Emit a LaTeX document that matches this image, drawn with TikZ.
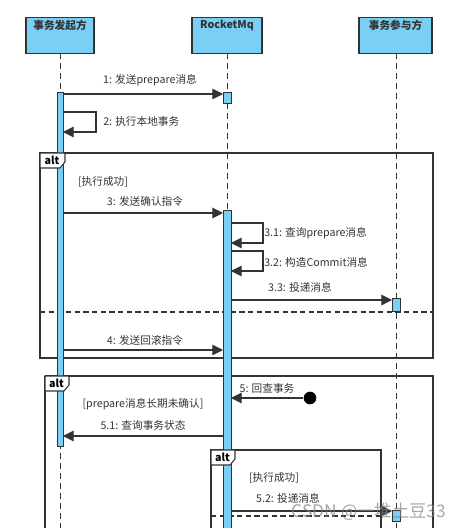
\documentclass[tikz,border=0pt]{standalone}
\usepackage{fontspec}
\setmainfont{Noto Sans CJK SC}
\usetikzlibrary{arrows.meta}
\definecolor{actblue}{HTML}{7ACFF5}
\definecolor{ln}{HTML}{333333}
\tikzset{
  hdr/.style={draw=ln, line width=0.9pt, fill=actblue, minimum width=#1, minimum height=27pt, anchor=north, inner sep=0pt},
  lifeline/.style={draw=ln, line width=0.7pt, dash pattern=on 4.5pt off 3pt},
  actbox/.style={draw=ln, line width=0.7pt, fill=actblue},
  msg/.style={draw=ln, line width=0.8pt, -{Triangle[length=8pt,width=8pt]}},
  lbl/.style={text=ln, font=\fontsize{8}{9}\selectfont, inner sep=0pt},
  frame/.style={draw=ln, line width=0.8pt},
  sep/.style={draw=ln, line width=0.8pt, dash pattern=on 4pt off 2.5pt},
  tag/.style={draw=ln, line width=0.8pt, fill=white},
  tagtxt/.style={font=\bfseries\fontsize{8}{9}\selectfont, text=black, inner sep=0pt},
}
\begin{document}
\begin{tikzpicture}[x=0.75pt,y=-0.75pt]
\useasboundingbox (0,0) rectangle (473,528);
% frames
\draw[frame] (40,153) rectangle (433,358);
\draw[sep] (40,312) -- (433,312);
\draw[frame] (45,376) -- (45,540) (45,376) -- (433,376) -- (433,540);
\draw[frame] (211,540) -- (211,450) -- (381,450) -- (381,540);
\draw[sep] (211,516) -- (381,516);
% lifelines
\path[lifeline] (60,53) -- (60,528);
\path[lifeline] (227,53) -- (227,528);
\path[lifeline] (396,53) -- (396,528);
% headers
\node[hdr=51pt] (A) at (60,17) {};
\node[lbl, font=\bfseries\fontsize{8}{9}\selectfont] at (60,25) {事务发起方};
\node[hdr=52.5pt] (B) at (227,17) {};
\node[lbl, font=\bfseries\fontsize{8}{9}\selectfont] at (227,25) {RocketMq};
\node[hdr=54.75pt] (C) at (395.5,17) {};
\node[lbl, font=\bfseries\fontsize{8}{9}\selectfont] at (395.5,25) {事务参与方};
% activations
\path[actbox] (57,92) rectangle (63,446);
\path[actbox] (223,92) rectangle (231,103);
\path[actbox] (223,210) rectangle (231,535);
\path[actbox] (392,298) rectangle (400,311);
\path[actbox] (392,510) rectangle (400,521);
% tags (drawn over the activations)
\draw[tag] (40,153) -- (65,153) -- (65,162) -- (60,168) -- (40,168) -- cycle;
\node[tagtxt] at (52,160.5) {alt};
\draw[tag] (45,376) -- (69,376) -- (69,385) -- (64,391) -- (45,391) -- cycle;
\node[tagtxt] at (56.5,383.5) {alt};
\draw[tag] (211,450) -- (235,450) -- (235,459) -- (230,465) -- (211,465) -- cycle;
\node[tagtxt] at (222.5,457.5) {alt};
% endpoints
\coordinate (a1) at (63,94); \coordinate (b1) at (223,94);
\coordinate (a2s) at (63,112); \coordinate (a2e) at (63,132);
\coordinate (a3) at (63,213); \coordinate (b3) at (223,213);
\coordinate (b31s) at (231,223); \coordinate (b31e) at (231,243);
\coordinate (b32s) at (231,251); \coordinate (b32e) at (231,271);
\coordinate (b33) at (231,300); \coordinate (c33) at (392,300);
\coordinate (a4) at (63,350); \coordinate (b4) at (223,350);
\coordinate (b5) at (231,398);
\coordinate (b51) at (223,436); \coordinate (a51) at (63,436);
\coordinate (b52) at (231,511); \coordinate (c52) at (392,511);
% messages
\draw[msg] (a1) -- (b1);
\node[lbl] at (150,80) {1: 发送prepare消息};
\draw[msg] (a2s) -- ++(33,0) |- (a2e);
\node[lbl, anchor=west] at (103,121) {2: 执行本地事务};
\node[lbl] at (103,182) {[执行成功]};
\draw[msg] (a3) -- (b3);
\node[lbl] at (145,201) {3: 发送确认指令};
\draw[msg] (b31s) -- ++(32,0) |- (b31e);
\node[lbl, anchor=west] at (264,233) {3.1: 查询prepare消息};
\draw[msg] (b32s) -- ++(32,0) |- (b32e);
\node[lbl, anchor=west] at (264,262) {3.2: 构造Commit消息};
\draw[msg] (b33) -- (c33);
\node[lbl] at (300,287) {3.3: 投递消息};
\draw[msg] (a4) -- (b4);
\node[lbl] at (145,340) {4: 发送回滚指令};
\node[circle, fill=black, minimum size=9.5pt, inner sep=0pt] (f5) at (310,398) {};
\draw[msg] (f5) -- (b5);
\node[lbl] at (267,388) {5: 回查事务};
\node[lbl] at (143,404) {[prepare消息长期未确认]};
\draw[msg] (b51) -- (a51);
\node[lbl] at (143,425) {5.1: 查询事务状态};
\node[lbl] at (274,478) {[执行成功]};
\draw[msg] (b52) -- (c52);
\node[lbl] at (288,498) {5.2: 投递消息};
% watermark
\node[text=gray, opacity=0.7, font=\fontsize{13}{14}\selectfont, inner sep=0pt] (wm) at (369,512) {CSDN @一堆土豆33};
\end{tikzpicture}
\end{document}
